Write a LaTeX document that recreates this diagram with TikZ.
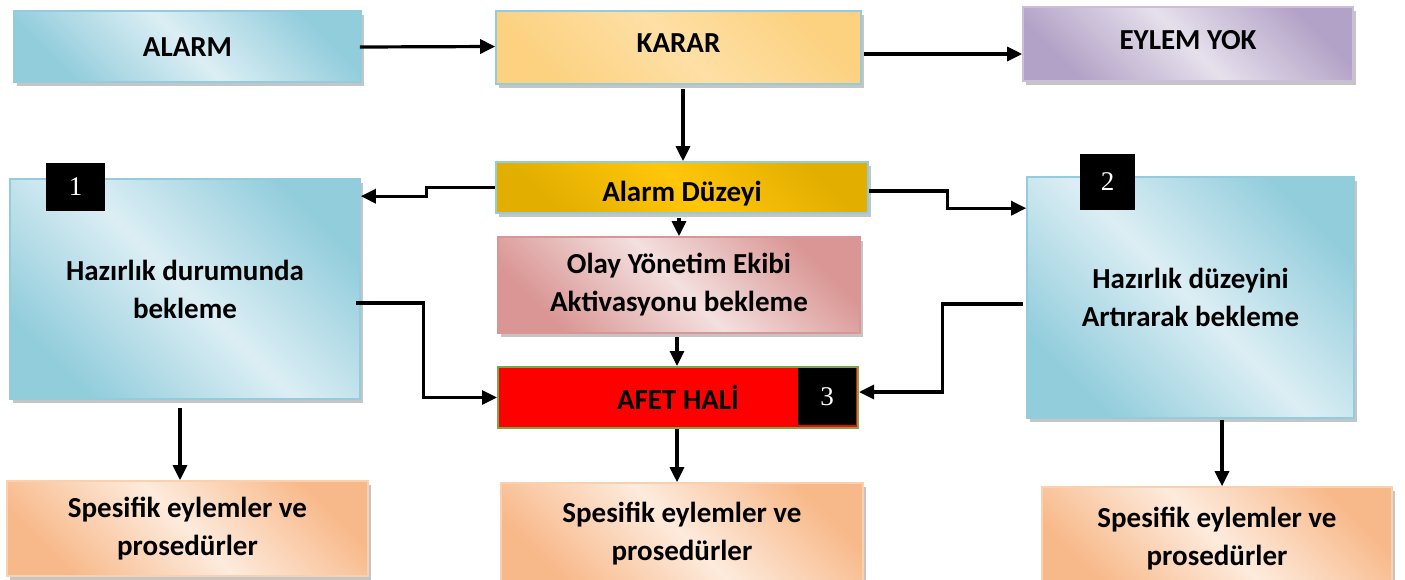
\documentclass[tikz,border=0pt]{standalone}
\usepackage{fontspec}
\setmainfont{Carlito}
\newfontfamily\numfont{Liberation Serif}
\usetikzlibrary{arrows.meta,shadows,calc}
\definecolor{bD}{HTML}{92CDDC}
\definecolor{bL}{HTML}{DCEEF4}
\definecolor{bB}{HTML}{93CDDD}
\definecolor{oD}{HTML}{FCD281}
\definecolor{oL}{HTML}{FEDFA5}
\definecolor{vD}{HTML}{B3A2C7}
\definecolor{vL}{HTML}{E6E0EC}
\definecolor{gD}{HTML}{E2AE00}
\definecolor{gL}{HTML}{FFC60A}
\definecolor{pD}{HTML}{D99694}
\definecolor{pL}{HTML}{F3E0DF}
\definecolor{sD}{HTML}{F8B98A}
\definecolor{sL}{HTML}{FDEBDD}
\definecolor{sB}{HTML}{FBD0AE}
\definecolor{grn}{HTML}{77A84A}
\begin{document}
\begin{tikzpicture}[x=1pt,y=-1pt,
  box/.style={draw, line width=1.6pt, rectangle, inner sep=0pt, align=center,
    font=\bfseries\fontsize{29}{38}\selectfont,
    drop shadow={shadow xshift=3pt,shadow yshift=-4pt,fill=black!45}},
  blueshade/.style={draw=bB, left color=bD, right color=bD, middle color=bL, shading angle=-45},
  orangeshade/.style={draw=bB, left color=oD, right color=oD, middle color=oL, shading angle=-45},
  violetshade/.style={draw=vD!70, left color=vD, right color=vD, middle color=vL, shading angle=-45},
  goldshade/.style={draw=bB, left color=gD, right color=gD, middle color=gL, shading angle=-45},
  pinkshade/.style={draw=pD, left color=pD, right color=pD, middle color=pL, shading angle=-45},
  peachshade/.style={draw=sB, left color=sD, right color=sD, middle color=sL, shading angle=-45},
  num/.style={fill=black, text=white, inner sep=0pt, font=\numfont\fontsize{27}{27}\selectfont},
  arr/.style={line width=3.2pt, -{Triangle[length=15pt,width=14pt]}}
]
\useasboundingbox (0,0) rectangle (1405,579);

% top row
\node[box, blueshade, minimum width=347pt, minimum height=71pt, text height=20pt, text depth=1pt] (alarm) at (187.5,46.5) {ALARM};
\node[box, orangeshade, minimum width=365pt, minimum height=73pt, text height=20pt, text depth=10pt] (karar) at (678.5,47.5) {KARAR};
\node[box, violetshade, minimum width=330pt, minimum height=74pt, text height=20pt, text depth=9pt] (eylem) at (1188,44) {EYLEM YOK};

% middle column
\node[box, goldshade, minimum width=372pt, minimum height=51pt, text height=27pt, text depth=0pt] (duzey) at (682,187.5) {Alarm Düzeyi};
\node[box, pinkshade, minimum width=362pt, minimum height=96pt] (olay) at (679,285) {Olay Yönetim Ekibi\\Aktivasyonu bekleme};
\node[draw=grn, fill=red, line width=2pt, inner sep=0pt, minimum width=360pt, minimum height=61pt,
      font=\bfseries\fontsize{29}{38}\selectfont, text height=23pt, text depth=0pt] (afet) at (678,397.5) {AFET HALİ};
\node[num, minimum width=58pt, minimum height=57pt] (n3) at (827,396.5) {3};

% big side boxes
\node[box, blueshade, minimum width=350pt, minimum height=220pt] (hazl) at (185,289) {Hazırlık durumunda\\bekleme};
\node[num, minimum width=59pt, minimum height=48pt] (n1) at (75.5,187) {1};
\node[box, blueshade, minimum width=327pt, minimum height=241pt] (hazr) at (1190.5,297.5) {Hazırlık düzeyini\\Artırarak bekleme};
\node[num, minimum width=55pt, minimum height=56pt] (n2) at (1107.5,182) {2};

% bottom row
\node[box, peachshade, minimum width=361pt, minimum height=95pt] (spl) at (187.5,528.5) {Spesifik eylemler ve\\prosedürler};
\node[box, peachshade, minimum width=362pt, minimum height=102pt] (spm) at (682,534) {Spesifik eylemler ve\\prosedürler};
\node[box, peachshade, minimum width=350pt, minimum height=103pt] (spr) at (1217,538.5) {Spesifik eylemler ve\\prosedürler};

% connectors
\draw[arr] ($(alarm.east)+(-2,0.5)$) -- (alarm.east -| karar.west);
\draw[arr] ($(karar.east)+(2,6.5)$) -- ($(karar.east -| eylem.west)+(0,6.5)$);
\draw[arr] ($(karar.south -| duzey.north)+(1,4)$) -- ($(duzey.north)+(1,0)$);
\draw[arr] ($(duzey.south -| olay.north)+(0,4)$) -- (olay.north);
\draw[arr] ($(olay.south)+(-2,3)$) -- ($(olay.south |- afet.north)+(-2,0)$);
\draw[arr] ($(afet.south)+(-1,0)$) -- ($(afet.south |- spm.north)+(-1,0)$);
\draw[arr] (duzey.west) -- ++(-69,0) |- ($(hazl.north east)+(0,18)$);
\draw[arr] ($(duzey.east)+(0,3.5)$) -- ++(79,0) |- ($(hazr.north west)+(0,32)$);
\draw[arr] ($(hazl.east)+(-5,14)$) -- ++(68,0) |- (afet.west);
\draw[arr] ($(hazr.west)+(-3,6.5)$) -- ++(-81,0) |- ($(afet.east)+(0,-5.5)$);
\draw[arr] ($(hazl.south)+(-5,8)$) -- ($(hazl.south |- spl.north)+(-5,0)$);
\draw[arr] ($(hazr.south)+(31.5,1)$) -- ($(hazr.south |- spr.north)+(31.5,0)$);
\end{tikzpicture}
\end{document}
